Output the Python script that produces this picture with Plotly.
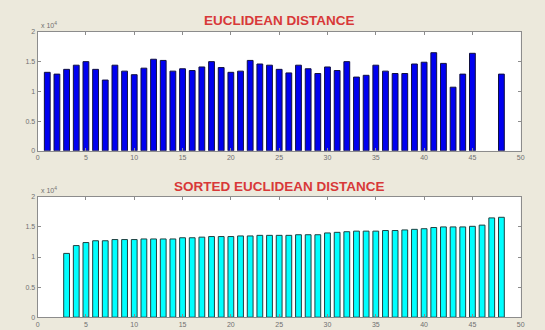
import plotly.graph_objects as go

# Data (values in units of 10^4)
idx_top = list(range(1, 46)) + [48]
dist_top = [1.32, 1.29, 1.37, 1.44, 1.50, 1.37, 1.19, 1.44, 1.34, 1.28,
            1.39, 1.54, 1.52, 1.34, 1.38, 1.35, 1.41, 1.50, 1.40, 1.32,
            1.34, 1.52, 1.46, 1.44, 1.37, 1.31, 1.44, 1.38, 1.30, 1.41,
            1.35, 1.50, 1.24, 1.27, 1.44, 1.34, 1.30, 1.30, 1.46, 1.49,
            1.65, 1.47, 1.07, 1.29, 1.64, 1.29]

idx_sorted = list(range(3, 49))
dist_sorted = [1.06, 1.19, 1.24, 1.27, 1.27, 1.29, 1.29, 1.29, 1.30, 1.30,
               1.30, 1.30, 1.32, 1.32, 1.33, 1.34, 1.34, 1.34, 1.35, 1.35,
               1.36, 1.36, 1.36, 1.36, 1.37, 1.37, 1.37, 1.40, 1.41, 1.42,
               1.43, 1.43, 1.43, 1.44, 1.44, 1.45, 1.46, 1.47, 1.49, 1.50,
               1.50, 1.50, 1.51, 1.53, 1.65, 1.66]

titles = ["EUCLIDEAN DISTANCE", "SORTED EUCLIDEAN DISTANCE"]
x_ticks = list(range(0, 51, 5))
y_ticks = [0, 0.5, 1, 1.5, 2]
y_tick_text = ["0", "0.5", "1", "1.5", "2"]

W, H = 545, 330
bg = "#ECE9DC"
tick_font = dict(family="Liberation Sans, Arial, sans-serif", size=7, color="#707070")

fig = go.Figure()
fig.add_trace(go.Bar(x=idx_top, y=dist_top, width=0.6,
                     marker=dict(color="#0000F0", line=dict(color="#101040", width=1)),
                     xaxis="x", yaxis="y", showlegend=False))
fig.add_trace(go.Bar(x=idx_sorted, y=dist_sorted, width=0.6,
                     marker=dict(color="#00FFFF", line=dict(color="#204040", width=1)),
                     xaxis="x2", yaxis="y2", showlegend=False))

xl, xr = 36 / W, 524.5 / W
dom_top = [1 - 150 / H, 1 - 28.5 / H]
dom_bot = [1 - 320 / H, 1 - 197 / H]

ax_common = dict(showline=True, linecolor="#8C8C8C", linewidth=1, mirror="ticks",
                 ticks="inside", ticklen=3, tickcolor="#8C8C8C", showgrid=False,
                 zeroline=False, tickfont=tick_font, fixedrange=True)

fig.update_layout(
    width=W, height=H,
    paper_bgcolor=bg, plot_bgcolor="white",
    margin=dict(l=0, r=0, t=0, b=0),
    bargap=0,
    xaxis=dict(domain=[xl, xr], range=[0, 50], tickvals=x_ticks, anchor="y", **ax_common),
    yaxis=dict(domain=dom_top, range=[0, 2], tickvals=y_ticks, ticktext=y_tick_text,
               anchor="x", **ax_common),
    xaxis2=dict(domain=[xl, xr], range=[0, 50], tickvals=x_ticks, anchor="y2", **ax_common),
    yaxis2=dict(domain=dom_bot, range=[0, 2], tickvals=y_ticks, ticktext=y_tick_text,
                anchor="x2", **ax_common),
)

title_font = dict(family="Liberation Sans, Arial, sans-serif", size=13.5, color="#D83838",
                  weight="bold")
fig.add_annotation(text=titles[0], x=(xl + xr) / 2, y=1 - 17 / H, xref="paper", yref="paper",
                   showarrow=False, font=title_font, xanchor="center", yanchor="middle")
fig.add_annotation(text=titles[1], x=(xl + xr) / 2, y=1 - 186 / H, xref="paper", yref="paper",
                   showarrow=False, font=title_font, xanchor="center", yanchor="middle")

exp_font = dict(family="Liberation Sans, Arial, sans-serif", size=7, color="#707070")
for ytop in (28.5, 197):
    fig.add_annotation(text="x 10<sup>4</sup>", x=xl + 1 / W, y=1 - (ytop - 1) / H,
                       xref="paper", yref="paper", showarrow=False, font=exp_font,
                       xanchor="left", yanchor="bottom")

fig.write_html("out.html",
               config={"displayModeBar": False, "staticPlot": True},
               post_script="document.body.style.margin='0';document.body.style.overflow='hidden';"
                           f"document.body.style.background='{bg}';")
